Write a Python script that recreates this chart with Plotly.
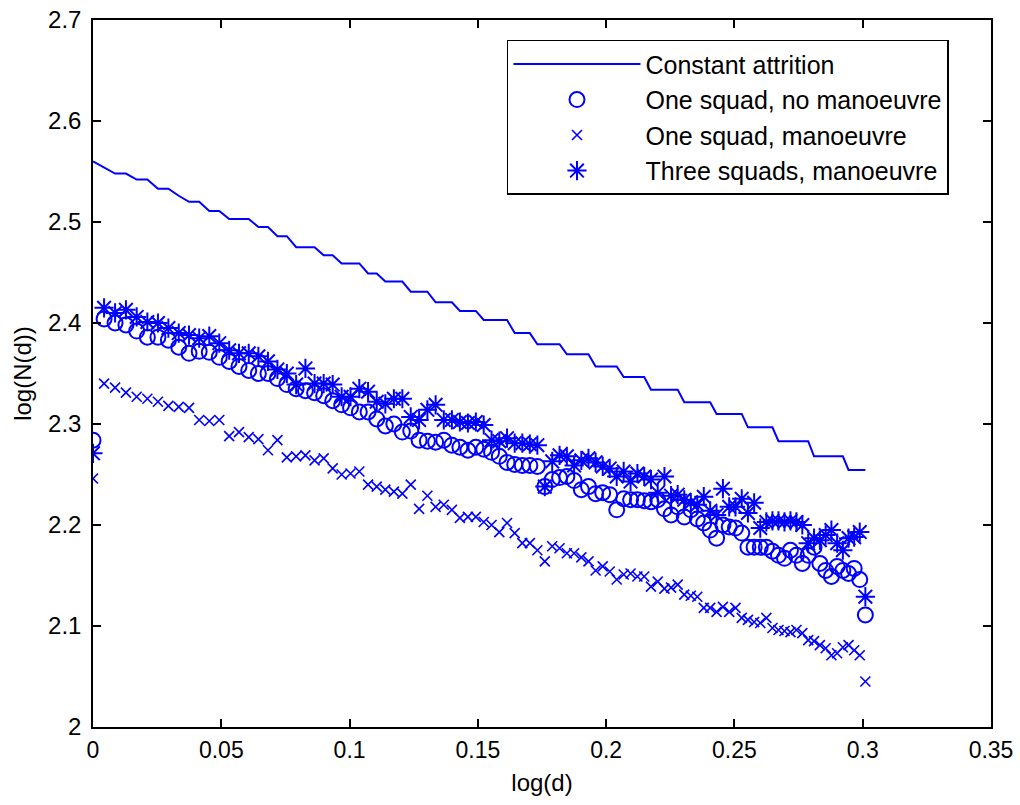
import plotly.graph_objects as go

# x values: log(d)
LOG_D = [0.0, 0.00432, 0.0086, 0.01284, 0.01703, 0.02119, 0.02531, 0.02938, 0.03342, 0.03743,
         0.04139, 0.04532, 0.04922, 0.05308, 0.0569, 0.0607, 0.06446, 0.06819, 0.07188, 0.07555,
         0.07918, 0.08279, 0.08636, 0.08991, 0.09342, 0.09691, 0.10037, 0.1038, 0.10721, 0.11059,
         0.11394, 0.11727, 0.12057, 0.12385, 0.1271, 0.13033, 0.13354, 0.13672, 0.13988, 0.14301,
         0.14613, 0.14922, 0.15229, 0.15534, 0.15836, 0.16137, 0.16435, 0.16732, 0.17026, 0.17319,
         0.17609, 0.17898, 0.18184, 0.18469, 0.18752, 0.19033, 0.19312, 0.1959, 0.19866, 0.2014,
         0.20412, 0.20683, 0.20952, 0.21219, 0.21484, 0.21748, 0.22011, 0.22272, 0.22531, 0.22789,
         0.23045, 0.233, 0.23553, 0.23805, 0.24055, 0.24304, 0.24551, 0.24797, 0.25042, 0.25285,
         0.25527, 0.25768, 0.26007, 0.26245, 0.26482, 0.26717, 0.26951, 0.27184, 0.27416, 0.27646,
         0.27875, 0.28103, 0.2833, 0.28556, 0.2878, 0.29003, 0.29226, 0.29447, 0.29667, 0.29885,
         0.30103]

CONSTANT_ATTRITION = [
    2.560, 2.554, 2.548, 2.548, 2.542, 2.542, 2.533, 2.533, 2.526, 2.520,
    2.520, 2.511, 2.511, 2.503, 2.503, 2.503, 2.495, 2.495, 2.486, 2.486,
    2.475, 2.475, 2.475, 2.467, 2.467, 2.459, 2.459, 2.459, 2.449, 2.449,
    2.441, 2.441, 2.441, 2.431, 2.431, 2.431, 2.4205, 2.4205, 2.4205, 2.412,
    2.412, 2.412, 2.403, 2.403, 2.403, 2.403, 2.390, 2.390, 2.390, 2.379,
    2.379, 2.379, 2.379, 2.369, 2.369, 2.369, 2.369, 2.357, 2.357, 2.357,
    2.357, 2.3465, 2.3465, 2.3465, 2.3465, 2.334, 2.334, 2.334, 2.334, 2.334,
    2.3215, 2.3215, 2.3215, 2.3215, 2.3215, 2.310, 2.310, 2.310, 2.310, 2.310,
    2.2967, 2.2967, 2.2967, 2.2967, 2.2967, 2.283, 2.283, 2.283, 2.283, 2.283,
    2.283, 2.268, 2.268, 2.268, 2.268, 2.268, 2.268, 2.2545, 2.2545, 2.2545,
    2.2545]

ONE_SQUAD_NO_MAN = [
    2.284, 2.404, 2.400, 2.398, 2.392, 2.386, 2.386, 2.383, 2.376, 2.370,
    2.372, 2.371, 2.366, 2.362, 2.357, 2.353, 2.350, 2.350, 2.345, 2.339,
    2.335, 2.333, 2.331, 2.328, 2.323, 2.319, 2.316, 2.312, 2.312, 2.305,
    2.298, 2.300, 2.292, 2.293, 2.284, 2.283, 2.282, 2.284, 2.279, 2.277,
    2.274, 2.277, 2.275, 2.272, 2.268, 2.262, 2.260, 2.259, 2.259, 2.258,
    2.238, 2.245, 2.247, 2.248, 2.244, 2.235, 2.238, 2.231, 2.232, 2.230,
    2.215, 2.226, 2.225, 2.225, 2.224, 2.223, 2.225, 2.216, 2.210, 2.218,
    2.208, 2.215, 2.206, 2.202, 2.195, 2.187, 2.200, 2.198, 2.197, 2.192,
    2.178, 2.178, 2.178, 2.178, 2.174, 2.170, 2.167, 2.175, 2.170, 2.162,
    2.170, 2.178, 2.162, 2.155, 2.149, 2.159, 2.155, 2.152, 2.157, 2.146,
    2.111]

ONE_SQUAD_MAN = [
    2.246, 2.340, 2.336, 2.331, 2.327, 2.325, 2.322, 2.318, 2.317, 2.316,
    2.304, 2.303, 2.304, 2.288, 2.292, 2.287, 2.285, 2.274, 2.284, 2.267,
    2.268, 2.269, 2.264, 2.266, 2.256, 2.250, 2.251, 2.253, 2.240, 2.238,
    2.235, 2.233, 2.231, 2.240, 2.216, 2.229, 2.218, 2.220, 2.215, 2.207,
    2.208, 2.208, 2.203, 2.200, 2.193, 2.202, 2.192, 2.182, 2.182, 2.175,
    2.164, 2.179, 2.177, 2.172, 2.172, 2.168, 2.164, 2.155, 2.159, 2.154,
    2.146, 2.151, 2.152, 2.149, 2.149, 2.139, 2.144, 2.137, 2.138, 2.141,
    2.131, 2.130, 2.129, 2.118, 2.118, 2.114, 2.119, 2.114, 2.118, 2.108,
    2.106, 2.104, 2.103, 2.108, 2.098, 2.096, 2.095, 2.094, 2.096, 2.093,
    2.086, 2.085, 2.081, 2.078, 2.071, 2.073, 2.079, 2.081, 2.076, 2.071,
    2.045]

THREE_SQUADS_MAN = [
    2.271, 2.415, 2.410, 2.413, 2.406, 2.401, 2.400, 2.395, 2.390, 2.388,
    2.385, 2.387, 2.380, 2.373, 2.370, 2.370, 2.367, 2.362, 2.354, 2.350,
    2.339, 2.355, 2.340, 2.340, 2.339, 2.327, 2.327, 2.335, 2.332, 2.322,
    2.320, 2.325, 2.325, 2.307, 2.304, 2.314, 2.319, 2.304, 2.304, 2.302,
    2.301, 2.302, 2.299, 2.284, 2.283, 2.286, 2.281, 2.281, 2.280, 2.279,
    2.238, 2.263, 2.269, 2.268, 2.259, 2.264, 2.266, 2.262, 2.258, 2.256,
    2.248, 2.253, 2.243, 2.251, 2.248, 2.245, 2.232, 2.248, 2.229, 2.230,
    2.225, 2.222, 2.220, 2.228, 2.214, 2.210, 2.236, 2.218, 2.218, 2.226,
    2.212, 2.222, 2.197, 2.203, 2.204, 2.204, 2.203, 2.204, 2.203, 2.200,
    2.182, 2.187, 2.185, 2.190, 2.195, 2.182, 2.175, 2.187, 2.188, 2.193,
    2.129]

SERIES_NAMES = ["Constant attrition", "One squad, no manoeuvre",
                "One squad, manoeuvre", "Three squads, manoeuvre"]

X_TICKS = [0, 0.05, 0.1, 0.15, 0.2, 0.25, 0.3, 0.35]
Y_TICKS = [2, 2.1, 2.2, 2.3, 2.4, 2.5, 2.6, 2.7]

BLUE = "#0000ff"
FONT = "Liberation Sans, Arial, sans-serif"

fig = go.Figure()
fig.add_trace(go.Scatter(x=LOG_D, y=CONSTANT_ATTRITION, mode="lines", name=SERIES_NAMES[0],
                         line=dict(color=BLUE, width=2)))
fig.add_trace(go.Scatter(x=LOG_D, y=ONE_SQUAD_NO_MAN, mode="markers", name=SERIES_NAMES[1],
                         marker=dict(symbol="circle-open", size=15, color=BLUE,
                                     line=dict(width=2, color=BLUE))))
fig.add_trace(go.Scatter(x=LOG_D, y=ONE_SQUAD_MAN, mode="markers", name=SERIES_NAMES[2],
                         marker=dict(symbol="x-thin-open", size=10, color=BLUE,
                                     line=dict(width=1.6, color=BLUE))))
fig.add_trace(go.Scatter(x=LOG_D, y=THREE_SQUADS_MAN, mode="markers", name=SERIES_NAMES[3],
                         marker=dict(symbol="asterisk-open", size=16, color=BLUE,
                                     line=dict(width=2, color=BLUE))))

axis_common = dict(showline=True, linecolor="black", linewidth=1.5, mirror="ticks",
                   ticks="inside", ticklen=8, tickwidth=1.5, tickcolor="black",
                   showgrid=False, zeroline=False, automargin=False)

fig.update_layout(
    width=1020, height=805,
    margin=dict(l=93, r=29, t=20, b=78, autoexpand=False),
    paper_bgcolor="white", plot_bgcolor="white",
    font=dict(family=FONT, size=24, color="black"),
    xaxis=dict(range=[0, 0.35], tickvals=X_TICKS, ticktext=[f"{v:g}" for v in X_TICKS],
               tickfont=dict(size=23), ticklabelstandoff=2,
               title=dict(text="log(d)", standoff=12, font=dict(size=24)),
               **axis_common),
    yaxis=dict(range=[2, 2.7], tickvals=Y_TICKS, ticktext=[f"{v:g}" for v in Y_TICKS],
               tickfont=dict(size=24), ticklabelstandoff=5,
               title=dict(text="log(N(d))", standoff=10, font=dict(size=24)),
               **axis_common),
    legend=dict(x=0.461, y=0.972, xanchor="left", yanchor="top",
                bgcolor="white", bordercolor="black", borderwidth=1.5,
                font=dict(size=25), itemwidth=127, tracegroupgap=0),
    showlegend=True,
)

# remove the default page margin so the figure fills the window exactly
fig.write_html("out.html",
               config={"displayModeBar": False},
               post_script="document.body.style.margin='0';"
                           "document.documentElement.style.overflow='hidden';")
